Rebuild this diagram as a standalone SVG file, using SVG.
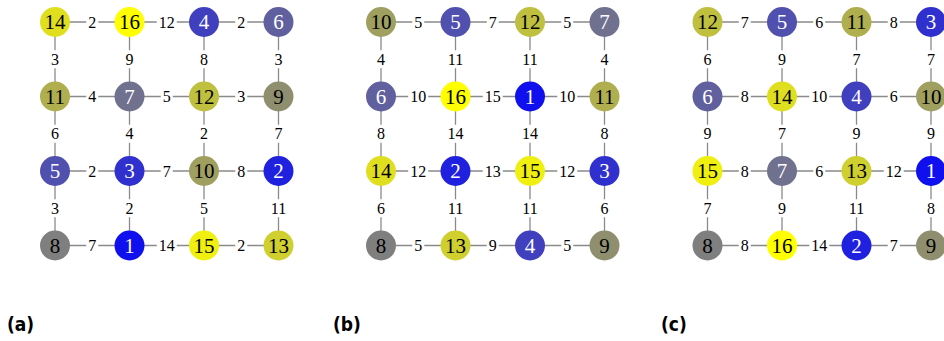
<svg xmlns="http://www.w3.org/2000/svg" width="944" height="341" viewBox="0 0 944 341">
<style>
.e line{stroke:#8a8a8a;stroke-width:1.3}
.e rect{fill:#fff}
.e text{font-family:"Liberation Serif","Times New Roman",serif;font-size:16px;fill:#000;text-anchor:middle}
.n text{font-family:"Liberation Serif","Times New Roman",serif;font-size:21px;text-anchor:middle}
.w{fill:#fff}.k{fill:#000}
.c1{fill:#1010ef}.c2{fill:#2020df}.c3{fill:#3030cf}.c4{fill:#4040bf}.c5{fill:#5050af}.c6{fill:#60609f}.c7{fill:#70708f}.c8{fill:#7f7f7f}
.c9{fill:#8f8f70}.c10{fill:#9f9f60}.c11{fill:#afaf50}.c12{fill:#bfbf40}.c13{fill:#cfcf30}.c14{fill:#dfdf20}.c15{fill:#efef10}.c16{fill:#ffff00}
.lab{font-family:"DejaVu Sans","Liberation Sans",sans-serif;font-stretch:condensed;font-weight:bold;font-size:19px;fill:#000}
</style>

<!-- ===== Grid (a) ===== -->
<g id="grid-a" transform="translate(55,0)">
<g id="connectors-a" class="e">
<line x1="0" y1="22" x2="74.5" y2="22"/><line x1="74.5" y1="22" x2="149" y2="22"/><line x1="149" y1="22" x2="223.5" y2="22"/>
<line x1="0" y1="96.5" x2="74.5" y2="96.5"/><line x1="74.5" y1="96.5" x2="149" y2="96.5"/><line x1="149" y1="96.5" x2="223.5" y2="96.5"/>
<line x1="0" y1="171" x2="74.5" y2="171"/><line x1="74.5" y1="171" x2="149" y2="171"/><line x1="149" y1="171" x2="223.5" y2="171"/>
<line x1="0" y1="245.5" x2="74.5" y2="245.5"/><line x1="74.5" y1="245.5" x2="149" y2="245.5"/><line x1="149" y1="245.5" x2="223.5" y2="245.5"/>
<line x1="0" y1="22" x2="0" y2="96.5"/><line x1="0" y1="96.5" x2="0" y2="171"/><line x1="0" y1="171" x2="0" y2="245.5"/>
<line x1="74.5" y1="22" x2="74.5" y2="96.5"/><line x1="74.5" y1="96.5" x2="74.5" y2="171"/><line x1="74.5" y1="171" x2="74.5" y2="245.5"/>
<line x1="149" y1="22" x2="149" y2="96.5"/><line x1="149" y1="96.5" x2="149" y2="171"/><line x1="149" y1="171" x2="149" y2="245.5"/>
<line x1="223.5" y1="22" x2="223.5" y2="96.5"/><line x1="223.5" y1="96.5" x2="223.5" y2="171"/><line x1="223.5" y1="171" x2="223.5" y2="245.5"/>
<rect x="31.25" y="14" width="12" height="16"/><text x="37.25" y="27.5">2</text>
<rect x="101.75" y="14" width="20" height="16"/><text x="111.75" y="27.5">12</text>
<rect x="180.25" y="14" width="12" height="16"/><text x="186.25" y="27.5">2</text>
<rect x="31.25" y="88.5" width="12" height="16"/><text x="37.25" y="102">4</text>
<rect x="105.75" y="88.5" width="12" height="16"/><text x="111.75" y="102">5</text>
<rect x="180.25" y="88.5" width="12" height="16"/><text x="186.25" y="102">3</text>
<rect x="31.25" y="163" width="12" height="16"/><text x="37.25" y="176.5">2</text>
<rect x="105.75" y="163" width="12" height="16"/><text x="111.75" y="176.5">7</text>
<rect x="180.25" y="163" width="12" height="16"/><text x="186.25" y="176.5">8</text>
<rect x="31.25" y="237.5" width="12" height="16"/><text x="37.25" y="251">7</text>
<rect x="101.75" y="237.5" width="20" height="16"/><text x="111.75" y="251">14</text>
<rect x="180.25" y="237.5" width="12" height="16"/><text x="186.25" y="251">2</text>
<rect x="-6" y="50.25" width="12" height="18"/><text x="0" y="64.75">3</text>
<rect x="-6" y="124.75" width="12" height="18"/><text x="0" y="139.25">6</text>
<rect x="-6" y="199.25" width="12" height="18"/><text x="0" y="213.75">3</text>
<rect x="68.5" y="50.25" width="12" height="18"/><text x="74.5" y="64.75">9</text>
<rect x="68.5" y="124.75" width="12" height="18"/><text x="74.5" y="139.25">4</text>
<rect x="68.5" y="199.25" width="12" height="18"/><text x="74.5" y="213.75">2</text>
<rect x="143" y="50.25" width="12" height="18"/><text x="149" y="64.75">8</text>
<rect x="143" y="124.75" width="12" height="18"/><text x="149" y="139.25">2</text>
<rect x="143" y="199.25" width="12" height="18"/><text x="149" y="213.75">5</text>
<rect x="217.5" y="50.25" width="12" height="18"/><text x="223.5" y="64.75">3</text>
<rect x="217.5" y="124.75" width="12" height="18"/><text x="223.5" y="139.25">7</text>
<rect x="213.5" y="199.25" width="20" height="18"/><text x="223.5" y="213.75">11</text>
</g>
<g class="n">
<g id="a-r0c0"><circle cx="0" cy="22" r="15" class="c14"/><text x="0" y="29" class="k">14</text></g>
<g id="a-r0c1"><circle cx="74.5" cy="22" r="15" class="c16"/><text x="74.5" y="29" class="k">16</text></g>
<g id="a-r0c2"><circle cx="149" cy="22" r="15" class="c4"/><text x="149" y="29" class="w">4</text></g>
<g id="a-r0c3"><circle cx="223.5" cy="22" r="15" class="c6"/><text x="223.5" y="29" class="w">6</text></g>
<g id="a-r1c0"><circle cx="0" cy="96.5" r="15" class="c11"/><text x="0" y="103.5" class="k">11</text></g>
<g id="a-r1c1"><circle cx="74.5" cy="96.5" r="15" class="c7"/><text x="74.5" y="103.5" class="w">7</text></g>
<g id="a-r1c2"><circle cx="149" cy="96.5" r="15" class="c12"/><text x="149" y="103.5" class="k">12</text></g>
<g id="a-r1c3"><circle cx="223.5" cy="96.5" r="15" class="c9"/><text x="223.5" y="103.5" class="k">9</text></g>
<g id="a-r2c0"><circle cx="0" cy="171" r="15" class="c5"/><text x="0" y="178" class="w">5</text></g>
<g id="a-r2c1"><circle cx="74.5" cy="171" r="15" class="c3"/><text x="74.5" y="178" class="w">3</text></g>
<g id="a-r2c2"><circle cx="149" cy="171" r="15" class="c10"/><text x="149" y="178" class="k">10</text></g>
<g id="a-r2c3"><circle cx="223.5" cy="171" r="15" class="c2"/><text x="223.5" y="178" class="w">2</text></g>
<g id="a-r3c0"><circle cx="0" cy="245.5" r="15" class="c8"/><text x="0" y="252.5" class="k">8</text></g>
<g id="a-r3c1"><circle cx="74.5" cy="245.5" r="15" class="c1"/><text x="74.5" y="252.5" class="w">1</text></g>
<g id="a-r3c2"><circle cx="149" cy="245.5" r="15" class="c15"/><text x="149" y="252.5" class="k">15</text></g>
<g id="a-r3c3"><circle cx="223.5" cy="245.5" r="15" class="c13"/><text x="223.5" y="252.5" class="k">13</text></g>
</g>
</g>

<!-- ===== Grid (b) ===== -->
<g id="grid-b" transform="translate(381,0)">
<g id="connectors-b" class="e">
<line x1="0" y1="22" x2="74.5" y2="22"/><line x1="74.5" y1="22" x2="149" y2="22"/><line x1="149" y1="22" x2="223.5" y2="22"/>
<line x1="0" y1="96.5" x2="74.5" y2="96.5"/><line x1="74.5" y1="96.5" x2="149" y2="96.5"/><line x1="149" y1="96.5" x2="223.5" y2="96.5"/>
<line x1="0" y1="171" x2="74.5" y2="171"/><line x1="74.5" y1="171" x2="149" y2="171"/><line x1="149" y1="171" x2="223.5" y2="171"/>
<line x1="0" y1="245.5" x2="74.5" y2="245.5"/><line x1="74.5" y1="245.5" x2="149" y2="245.5"/><line x1="149" y1="245.5" x2="223.5" y2="245.5"/>
<line x1="0" y1="22" x2="0" y2="96.5"/><line x1="0" y1="96.5" x2="0" y2="171"/><line x1="0" y1="171" x2="0" y2="245.5"/>
<line x1="74.5" y1="22" x2="74.5" y2="96.5"/><line x1="74.5" y1="96.5" x2="74.5" y2="171"/><line x1="74.5" y1="171" x2="74.5" y2="245.5"/>
<line x1="149" y1="22" x2="149" y2="96.5"/><line x1="149" y1="96.5" x2="149" y2="171"/><line x1="149" y1="171" x2="149" y2="245.5"/>
<line x1="223.5" y1="22" x2="223.5" y2="96.5"/><line x1="223.5" y1="96.5" x2="223.5" y2="171"/><line x1="223.5" y1="171" x2="223.5" y2="245.5"/>
<rect x="31.25" y="14" width="12" height="16"/><text x="37.25" y="27.5">5</text>
<rect x="105.75" y="14" width="12" height="16"/><text x="111.75" y="27.5">7</text>
<rect x="180.25" y="14" width="12" height="16"/><text x="186.25" y="27.5">5</text>
<rect x="27.25" y="88.5" width="20" height="16"/><text x="37.25" y="102">10</text>
<rect x="101.75" y="88.5" width="20" height="16"/><text x="111.75" y="102">15</text>
<rect x="176.25" y="88.5" width="20" height="16"/><text x="186.25" y="102">10</text>
<rect x="27.25" y="163" width="20" height="16"/><text x="37.25" y="176.5">12</text>
<rect x="101.75" y="163" width="20" height="16"/><text x="111.75" y="176.5">13</text>
<rect x="176.25" y="163" width="20" height="16"/><text x="186.25" y="176.5">12</text>
<rect x="31.25" y="237.5" width="12" height="16"/><text x="37.25" y="251">5</text>
<rect x="105.75" y="237.5" width="12" height="16"/><text x="111.75" y="251">9</text>
<rect x="180.25" y="237.5" width="12" height="16"/><text x="186.25" y="251">5</text>
<rect x="-6" y="50.25" width="12" height="18"/><text x="0" y="64.75">4</text>
<rect x="-6" y="124.75" width="12" height="18"/><text x="0" y="139.25">8</text>
<rect x="-6" y="199.25" width="12" height="18"/><text x="0" y="213.75">6</text>
<rect x="64.5" y="50.25" width="20" height="18"/><text x="74.5" y="64.75">11</text>
<rect x="64.5" y="124.75" width="20" height="18"/><text x="74.5" y="139.25">14</text>
<rect x="64.5" y="199.25" width="20" height="18"/><text x="74.5" y="213.75">11</text>
<rect x="139" y="50.25" width="20" height="18"/><text x="149" y="64.75">11</text>
<rect x="139" y="124.75" width="20" height="18"/><text x="149" y="139.25">14</text>
<rect x="139" y="199.25" width="20" height="18"/><text x="149" y="213.75">11</text>
<rect x="217.5" y="50.25" width="12" height="18"/><text x="223.5" y="64.75">4</text>
<rect x="217.5" y="124.75" width="12" height="18"/><text x="223.5" y="139.25">8</text>
<rect x="217.5" y="199.25" width="12" height="18"/><text x="223.5" y="213.75">6</text>
</g>
<g class="n">
<g id="b-r0c0"><circle cx="0" cy="22" r="15" class="c10"/><text x="0" y="29" class="k">10</text></g>
<g id="b-r0c1"><circle cx="74.5" cy="22" r="15" class="c5"/><text x="74.5" y="29" class="w">5</text></g>
<g id="b-r0c2"><circle cx="149" cy="22" r="15" class="c12"/><text x="149" y="29" class="k">12</text></g>
<g id="b-r0c3"><circle cx="223.5" cy="22" r="15" class="c7"/><text x="223.5" y="29" class="w">7</text></g>
<g id="b-r1c0"><circle cx="0" cy="96.5" r="15" class="c6"/><text x="0" y="103.5" class="w">6</text></g>
<g id="b-r1c1"><circle cx="74.5" cy="96.5" r="15" class="c16"/><text x="74.5" y="103.5" class="k">16</text></g>
<g id="b-r1c2"><circle cx="149" cy="96.5" r="15" class="c1"/><text x="149" y="103.5" class="w">1</text></g>
<g id="b-r1c3"><circle cx="223.5" cy="96.5" r="15" class="c11"/><text x="223.5" y="103.5" class="k">11</text></g>
<g id="b-r2c0"><circle cx="0" cy="171" r="15" class="c14"/><text x="0" y="178" class="k">14</text></g>
<g id="b-r2c1"><circle cx="74.5" cy="171" r="15" class="c2"/><text x="74.5" y="178" class="w">2</text></g>
<g id="b-r2c2"><circle cx="149" cy="171" r="15" class="c15"/><text x="149" y="178" class="k">15</text></g>
<g id="b-r2c3"><circle cx="223.5" cy="171" r="15" class="c3"/><text x="223.5" y="178" class="w">3</text></g>
<g id="b-r3c0"><circle cx="0" cy="245.5" r="15" class="c8"/><text x="0" y="252.5" class="k">8</text></g>
<g id="b-r3c1"><circle cx="74.5" cy="245.5" r="15" class="c13"/><text x="74.5" y="252.5" class="k">13</text></g>
<g id="b-r3c2"><circle cx="149" cy="245.5" r="15" class="c4"/><text x="149" y="252.5" class="w">4</text></g>
<g id="b-r3c3"><circle cx="223.5" cy="245.5" r="15" class="c9"/><text x="223.5" y="252.5" class="k">9</text></g>
</g>
</g>

<!-- ===== Grid (c) ===== -->
<g id="grid-c" transform="translate(707.5,0)">
<g id="connectors-c" class="e">
<line x1="0" y1="22" x2="74.5" y2="22"/><line x1="74.5" y1="22" x2="149" y2="22"/><line x1="149" y1="22" x2="223.5" y2="22"/>
<line x1="0" y1="96.5" x2="74.5" y2="96.5"/><line x1="74.5" y1="96.5" x2="149" y2="96.5"/><line x1="149" y1="96.5" x2="223.5" y2="96.5"/>
<line x1="0" y1="171" x2="74.5" y2="171"/><line x1="74.5" y1="171" x2="149" y2="171"/><line x1="149" y1="171" x2="223.5" y2="171"/>
<line x1="0" y1="245.5" x2="74.5" y2="245.5"/><line x1="74.5" y1="245.5" x2="149" y2="245.5"/><line x1="149" y1="245.5" x2="223.5" y2="245.5"/>
<line x1="0" y1="22" x2="0" y2="96.5"/><line x1="0" y1="96.5" x2="0" y2="171"/><line x1="0" y1="171" x2="0" y2="245.5"/>
<line x1="74.5" y1="22" x2="74.5" y2="96.5"/><line x1="74.5" y1="96.5" x2="74.5" y2="171"/><line x1="74.5" y1="171" x2="74.5" y2="245.5"/>
<line x1="149" y1="22" x2="149" y2="96.5"/><line x1="149" y1="96.5" x2="149" y2="171"/><line x1="149" y1="171" x2="149" y2="245.5"/>
<line x1="223.5" y1="22" x2="223.5" y2="96.5"/><line x1="223.5" y1="96.5" x2="223.5" y2="171"/><line x1="223.5" y1="171" x2="223.5" y2="245.5"/>
<rect x="31.25" y="14" width="12" height="16"/><text x="37.25" y="27.5">7</text>
<rect x="105.75" y="14" width="12" height="16"/><text x="111.75" y="27.5">6</text>
<rect x="180.25" y="14" width="12" height="16"/><text x="186.25" y="27.5">8</text>
<rect x="31.25" y="88.5" width="12" height="16"/><text x="37.25" y="102">8</text>
<rect x="101.75" y="88.5" width="20" height="16"/><text x="111.75" y="102">10</text>
<rect x="180.25" y="88.5" width="12" height="16"/><text x="186.25" y="102">6</text>
<rect x="31.25" y="163" width="12" height="16"/><text x="37.25" y="176.5">8</text>
<rect x="105.75" y="163" width="12" height="16"/><text x="111.75" y="176.5">6</text>
<rect x="176.25" y="163" width="20" height="16"/><text x="186.25" y="176.5">12</text>
<rect x="31.25" y="237.5" width="12" height="16"/><text x="37.25" y="251">8</text>
<rect x="101.75" y="237.5" width="20" height="16"/><text x="111.75" y="251">14</text>
<rect x="180.25" y="237.5" width="12" height="16"/><text x="186.25" y="251">7</text>
<rect x="-6" y="50.25" width="12" height="18"/><text x="0" y="64.75">6</text>
<rect x="-6" y="124.75" width="12" height="18"/><text x="0" y="139.25">9</text>
<rect x="-6" y="199.25" width="12" height="18"/><text x="0" y="213.75">7</text>
<rect x="68.5" y="50.25" width="12" height="18"/><text x="74.5" y="64.75">9</text>
<rect x="68.5" y="124.75" width="12" height="18"/><text x="74.5" y="139.25">7</text>
<rect x="68.5" y="199.25" width="12" height="18"/><text x="74.5" y="213.75">9</text>
<rect x="143" y="50.25" width="12" height="18"/><text x="149" y="64.75">7</text>
<rect x="143" y="124.75" width="12" height="18"/><text x="149" y="139.25">9</text>
<rect x="139" y="199.25" width="20" height="18"/><text x="149" y="213.75">11</text>
<rect x="217.5" y="50.25" width="12" height="18"/><text x="223.5" y="64.75">7</text>
<rect x="217.5" y="124.75" width="12" height="18"/><text x="223.5" y="139.25">9</text>
<rect x="217.5" y="199.25" width="12" height="18"/><text x="223.5" y="213.75">8</text>
</g>
<g class="n">
<g id="c-r0c0"><circle cx="0" cy="22" r="15" class="c12"/><text x="0" y="29" class="k">12</text></g>
<g id="c-r0c1"><circle cx="74.5" cy="22" r="15" class="c5"/><text x="74.5" y="29" class="w">5</text></g>
<g id="c-r0c2"><circle cx="149" cy="22" r="15" class="c11"/><text x="149" y="29" class="k">11</text></g>
<g id="c-r0c3"><circle cx="223.5" cy="22" r="15" class="c3"/><text x="223.5" y="29" class="w">3</text></g>
<g id="c-r1c0"><circle cx="0" cy="96.5" r="15" class="c6"/><text x="0" y="103.5" class="w">6</text></g>
<g id="c-r1c1"><circle cx="74.5" cy="96.5" r="15" class="c14"/><text x="74.5" y="103.5" class="k">14</text></g>
<g id="c-r1c2"><circle cx="149" cy="96.5" r="15" class="c4"/><text x="149" y="103.5" class="w">4</text></g>
<g id="c-r1c3"><circle cx="223.5" cy="96.5" r="15" class="c10"/><text x="223.5" y="103.5" class="k">10</text></g>
<g id="c-r2c0"><circle cx="0" cy="171" r="15" class="c15"/><text x="0" y="178" class="k">15</text></g>
<g id="c-r2c1"><circle cx="74.5" cy="171" r="15" class="c7"/><text x="74.5" y="178" class="w">7</text></g>
<g id="c-r2c2"><circle cx="149" cy="171" r="15" class="c13"/><text x="149" y="178" class="k">13</text></g>
<g id="c-r2c3"><circle cx="223.5" cy="171" r="15" class="c1"/><text x="223.5" y="178" class="w">1</text></g>
<g id="c-r3c0"><circle cx="0" cy="245.5" r="15" class="c8"/><text x="0" y="252.5" class="k">8</text></g>
<g id="c-r3c1"><circle cx="74.5" cy="245.5" r="15" class="c16"/><text x="74.5" y="252.5" class="k">16</text></g>
<g id="c-r3c2"><circle cx="149" cy="245.5" r="15" class="c2"/><text x="149" y="252.5" class="w">2</text></g>
<g id="c-r3c3"><circle cx="223.5" cy="245.5" r="15" class="c9"/><text x="223.5" y="252.5" class="k">9</text></g>
</g>
</g>

<text class="lab" x="7" y="331">(a)</text>
<text class="lab" x="333" y="331">(b)</text>
<text class="lab" x="661" y="331">(c)</text>
</svg>
